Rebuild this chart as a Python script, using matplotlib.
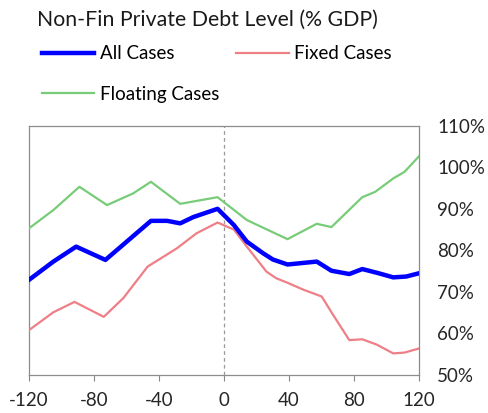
import matplotlib
matplotlib.use("Agg")
import matplotlib.pyplot as plt
from matplotlib.ticker import FuncFormatter

plt.rcParams['font.family'] = ['Lato', 'DejaVu Sans']
plt.rcParams['axes.unicode_minus'] = False

# values (x = months around event, y = % GDP)
all_x = [-120, -105, -91, -73, -45, -35, -27, -19, -4, 6, 14, 24, 30, 39, 57, 66, 77, 85, 95, 104, 112, 120]
all_y = [72.9, 77.3, 80.9, 77.7, 87.1, 87.1, 86.5, 88.0, 90.0, 86.1, 82.1, 79.3, 77.8, 76.6, 77.3, 75.1, 74.3, 75.5, 74.5, 73.5, 73.7, 74.5]

fixed_x = [-120, -105, -92, -74, -62, -47, -29, -17, -4, 6, 14, 26, 32, 39, 49, 60, 67, 77, 85, 94, 104, 111, 120]
fixed_y = [60.8, 65.1, 67.6, 64.0, 68.5, 76.1, 80.5, 84.1, 86.7, 85.0, 80.9, 74.9, 73.3, 72.2, 70.5, 68.9, 64.5, 58.4, 58.6, 57.3, 55.2, 55.4, 56.4]

float_x = [-120, -105, -89, -72, -56, -45, -27, -4, 14, 39, 57, 66, 85, 93, 104, 111, 120]
float_y = [85.3, 89.7, 95.3, 90.9, 93.7, 96.5, 91.2, 92.8, 87.3, 82.7, 86.4, 85.6, 92.8, 94.1, 97.3, 98.9, 102.7]

xticks = [-120, -80, -40, 0, 40, 80, 120]
yticks = [50, 60, 70, 80, 90, 100, 110]

fig = plt.figure(figsize=(4.88, 4.13), dpi=100)
ax = fig.add_axes([0.0594, 0.092, 0.7996, 0.6036])

l_all, = ax.plot(all_x, all_y, color='#0000FF', lw=3.2, label='All Cases', zorder=4)
l_fix, = ax.plot(fixed_x, fixed_y, color='#EE7F86', lw=1.6, label='Fixed Cases', zorder=3)
l_flt, = ax.plot(float_x, float_y, color='#78CC78', lw=1.6, label='Floating Cases', zorder=3)
ax.axvline(0, color='#999999', lw=0.9, ls=(0, (3, 2.5)), zorder=2)

ax.set_xlim(-120, 120)
ax.set_ylim(50, 110)
ax.set_xticks(xticks)
ax.set_yticks(yticks)
ax.yaxis.tick_right()
ax.yaxis.set_major_formatter(FuncFormatter(lambda v, p: '%d%%' % v))
ax.tick_params(axis='y', length=0, pad=13, labelsize=13.5, colors='#262626')
ax.tick_params(axis='x', length=4, width=0.8, color='#888888', pad=8, labelsize=13.5, labelcolor='#262626')
for s in ax.spines.values():
    s.set_color('#8c8c8c')
    s.set_linewidth(0.9)

fig.text(0.076, 0.952, 'Non-Fin Private Debt Level (% GDP)', fontsize=15.3, color='#1a1a1a', va='center')
fig.legend([l_all, l_flt, l_fix], ['All Cases', 'Floating Cases', 'Fixed Cases'],
           ncol=2, loc='upper left', bbox_to_anchor=(0.0855, 0.89), frameon=False,
           fontsize=13.5, handlelength=2.8, handletextpad=0.3, labelspacing=1.26,
           columnspacing=0.9, borderaxespad=0, borderpad=0)

fig.savefig('out.png', dpi=100)
